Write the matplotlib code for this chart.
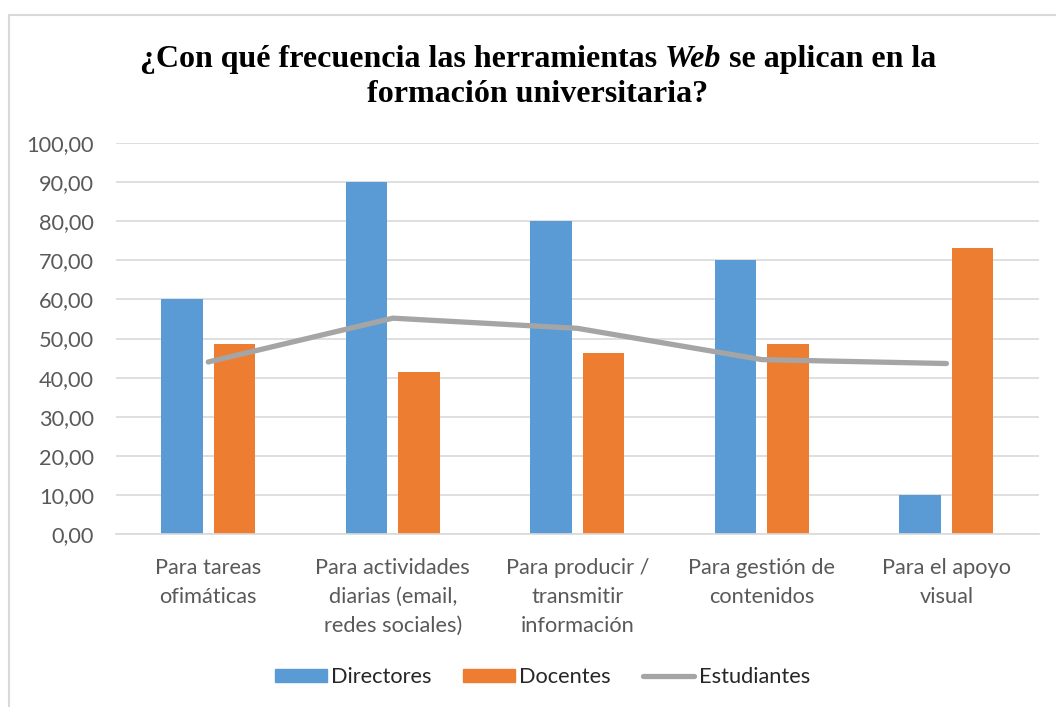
import matplotlib
matplotlib.use("Agg")
import matplotlib.pyplot as plt
import numpy as np
from matplotlib.lines import Line2D
from matplotlib.patches import Patch
from matplotlib.ticker import FuncFormatter

# Data
categorias = ['Para tareas\nofimáticas',
              'Para actividades\ndiarias (email,\nredes sociales)',
              'Para producir /\ntransmitir\ninformación',
              'Para gestión de\ncontenidos',
              'Para el apoyo\nvisual']
directores = [60.0, 90.0, 80.0, 70.0, 10.0]
docentes = [48.7, 41.4, 46.4, 48.7, 73.1]
estudiantes = [44.0, 55.2, 52.6, 44.6, 43.6]

c_dir = '#5b9bd5'
c_doc = '#ed7d31'
c_est = '#a5a5a5'
c_grid = '#d9d9d9'
c_txt = '#595959'
fs = 15.7

W, H = 1056, 707
fig = plt.figure(figsize=(W / 100, H / 100), dpi=100)
ax = fig.add_axes([116 / W, 1 - 534 / H, (1038.7 - 116) / W, (534 - 143) / H])

x = np.arange(len(categorias))
bw = 0.225
off = 0.1425
ax.bar(x - off, directores, width=bw, color=c_dir, zorder=2)
ax.bar(x + off, docentes, width=bw, color=c_doc, zorder=2)
ax.plot(x, estudiantes, color=c_est, lw=3.8, solid_capstyle='round', zorder=3)

ax.set_xlim(-0.5, len(categorias) - 0.5)
ax.set_ylim(0, 100)
ax.set_yticks(np.arange(0, 101, 10))
ax.yaxis.set_major_formatter(FuncFormatter(lambda v, p: f'{v:.2f}'.replace('.', ',')))
ax.set_xticks(x)
ax.set_xticklabels(categorias, linespacing=1.56)
ax.grid(axis='y', color=c_grid, lw=1.2, zorder=0)
for s in ['top', 'right', 'left']:
    ax.spines[s].set_visible(False)
ax.spines['bottom'].set_color(c_grid)
ax.spines['bottom'].set_linewidth(1.2)
ax.tick_params(axis='both', length=0, colors=c_txt, labelsize=fs)
ax.tick_params(axis='y', pad=16)
ax.tick_params(axis='x', pad=17)
for lab in ax.get_xticklabels() + ax.get_yticklabels():
    lab.set_fontfamily('Lato')
    lab.set_color(c_txt)

# Title, with "Web" in italics
tfont = dict(family='Liberation Serif', weight='bold', size=23, color='black')
parts = [('¿Con qué frecuencia las herramientas ', 'normal'),
         ('Web', 'italic'),
         (' se aplican en la', 'normal')]
renderer = fig.canvas.get_renderer()
texts = []
for s, st in parts:
    t = fig.text(0, 1 - 67 / H, s, style=st, va='baseline', ha='left', **tfont)
    texts.append(t)
widths = [t.get_window_extent(renderer).width for t in texts]
xpos = 538 - sum(widths) / 2
for t, w in zip(texts, widths):
    t.set_x(xpos / W)
    xpos += w
fig.text(538 / W, 1 - 102 / H, 'formación universitaria?', ha='center', va='baseline', **tfont)

# Legend
handles = [Patch(color=c_dir), Patch(color=c_doc),
           Line2D([], [], color=c_est, lw=3.8, solid_capstyle='round')]
leg = fig.legend(handles, ['Directores', 'Docentes', 'Estudiantes'], ncol=3,
                 loc='center', bbox_to_anchor=(542.5 / W, 1 - 677 / H), frameon=False,
                 prop={'family': 'Lato', 'size': fs}, handlelength=2.37, handleheight=0.58,
                 handletextpad=0.2, columnspacing=1.45)
for t in leg.get_texts():
    t.set_color('#262626')

# Chart border (only top and left visible in the reference crop)
fig.add_artist(Line2D([9 / W, 1], [1 - 15 / H, 1 - 15 / H], color=c_grid, lw=1.5))
fig.add_artist(Line2D([9 / W, 9 / W], [0, 1 - 15 / H], color=c_grid, lw=1.5))

fig.savefig('out.png', dpi=100)
